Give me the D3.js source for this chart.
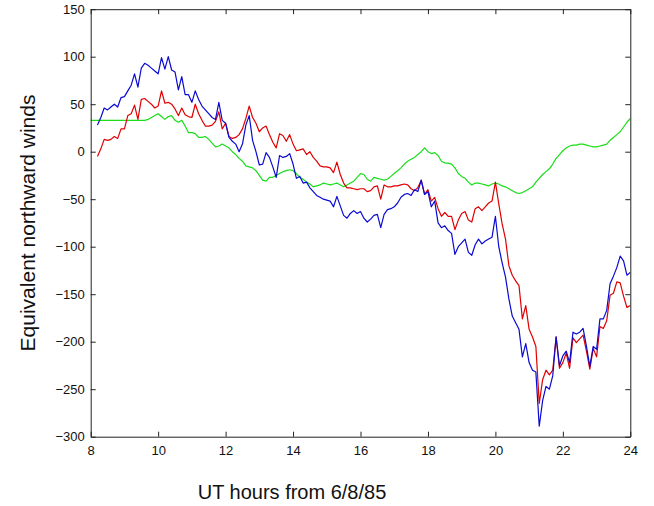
<!DOCTYPE html>
<html>
<head>
<meta charset="utf-8">
<script src="https://cdn.jsdelivr.net/npm/d3@7"></script>
<style>
  body { margin: 0; background: #fff; }
  svg { display: block; font-family: "Liberation Sans", Arial, Helvetica, sans-serif; }
</style>
</head>
<body>
<div id="chart"></div>
<script>
// samples every 0.1 h starting at 8.0 UT
const t0 = 8.0;
const dt = 0.1;

const xTicks = [8, 10, 12, 14, 16, 18, 20, 22, 24];
const yTicks = [-300, -250, -200, -150, -100, -50, 0, 50, 100, 150];

const blue = [
  null, null, 28, 36, 46, 44, 47, 50, 47, 57,
  58, 64, 70, 82, 68, 88, 93, 91, 88, 85,
  82, 99, 87, 100, 86, 84, 65, 79, 60, 60,
  52, 64, 55, 48, 44, 40, 36, 34, 52, 33,
  30, 15, 11, 8, 0, 8, 28, 38, 12, 0,
  -14, -13, -1, -6, -16, -27, -4, -6, -5, -2,
  -13, -28, -26, -33, -32, -38, -42, -46, -48, -50,
  -51, -52, -58, -47, -57, -67, -70, -65, -62, -65,
  -63, -70, -74, -71, -67, -66, -80, -66, -61, -60,
  -58, -54, -48, -45, -44, -46, -40, -42, -30, -45,
  -42, -58, -52, -75, -80, -78, -83, -86, -108, -100,
  -96, -92, -106, -109, -98, -92, -97, -94, -92, -90,
  -68, -100, -117, -132, -155, -173, -180, -187, -216, -202,
  -222, -230, -232, -289, -262, -247, -250, -236, -195, -225,
  -215, -210, -222, -190, -192, -190, -186, -205, -226, -205,
  -208, -176, -176, -167, -139, -131, -122, -110, -115, -130,
  -127
];

const red = [
  null, null, -5, 3, 13, 12, 13, 16, 14, 24,
  24, 38, 40, 49, 34, 55, 56, 53, 50, 46,
  48, 64, 51, 52, 50, 45, 38, 46, 39, 37,
  36, 50, 40, 33, 27, 27, 28, 32, 42, 24,
  30, 16, 14, 15, 18, 24, 35, 48, 36, 30,
  21, 25, 27, 18, 10, 4, 19, 17, 11, 18,
  8, 1, 2, 3, -3, 0, -6, -10, -15, -16,
  -16, -17, -22, -11, -24, -33, -38, -38, -39, -40,
  -39, -39, -42, -41, -37, -36, -50, -35, -37, -37,
  -36, -36, -35, -34, -35, -39, -41, -38, -30, -45,
  -40, -52, -48, -60, -68, -64, -68, -68, -82, -72,
  -65, -63, -72, -74, -60, -58, -62, -58, -54, -52,
  -32, -55, -76, -92, -120, -130, -136, -141, -176, -162,
  -187, -195, -205, -265, -240, -230, -235, -230, -195, -228,
  -222, -212, -228, -196, -201, -197, -193, -210, -229, -207,
  -216, -184, -186, -178, -151, -149, -137, -138, -152, -164,
  -162
];

const green = [
  33, 33, 33, 33, 33, 33, 33, 33, 33, 33,
  33, 33, 33, 33, 33, 33, 33, 34, 36, 38,
  40, 37, 34, 37, 38, 33, 31, 33, 27, 20,
  20, 19, 15, 15, 16, 13, 9, 5, 6, 8,
  6, 4, 0, -3, -7, -10, -15, -16, -17, -20,
  -25, -30, -31, -27, -27, -25, -23, -21, -20, -19,
  -20, -23, -27, -29, -32, -34, -37, -36, -35, -33,
  -34, -35, -34, -33, -35, -37, -35, -33, -31, -27,
  -23, -24, -29, -31, -27, -28, -29, -30, -29, -26,
  -23, -20, -17, -13, -10, -8, -6, -3, 0, 4,
  0, -2, -1, -4, -10, -12, -12, -13, -17, -23,
  -26, -28, -32, -35, -33, -33, -34, -35, -36, -34,
  -33, -34, -36, -37, -39, -41, -43, -44, -43, -41,
  -39, -37, -32, -28, -24, -21, -18, -13, -7, -3,
  1, 4, 6, 7, 7, 8, 8, 7, 6, 5,
  5, 6, 7, 8, 12, 15, 18, 21, 26, 31,
  35
];

const series = [
  { name: 'green', values: green, color: '#19dd19' },
  { name: 'red', values: red, color: '#e00000' },
  { name: 'blue', values: blue, color: '#0a0ad2' }
];

const width = 654;
const height = 506;
const margin = { top: 9.2, right: 23.7, bottom: 69.3, left: 90.7 };

const svg = d3.select('#chart')
  .append('svg')
  .attr('width', width)
  .attr('height', height)
  .attr('viewBox', `0 0 ${width} ${height}`);

const x = d3.scaleLinear()
  .domain([8, 24])
  .range([margin.left, width - margin.right]);

const y = d3.scaleLinear()
  .domain([-300, 150])
  .range([height - margin.bottom, margin.top]);

const line = d3.line()
  .defined(d => d != null)
  .x((d, i) => x(t0 + i * dt))
  .y(d => y(d));

const plot = svg.append('g');

series.forEach(s => {
  plot.append('path')
    .datum(s.values)
    .attr('fill', 'none')
    .attr('stroke', s.color)
    .attr('stroke-width', 1.2)
    .attr('stroke-linejoin', 'round')
    .attr('d', line);
});

// axes with inward ticks, matlab style box
const tickLen = 5;

const gx = svg.append('g')
  .attr('transform', `translate(0,${y(-300)})`)
  .call(d3.axisBottom(x).tickValues(xTicks).tickFormat(d3.format('d'))
    .tickSizeInner(-tickLen).tickSizeOuter(0).tickPadding(9));

const gxTop = svg.append('g')
  .attr('transform', `translate(0,${y(150)})`)
  .call(d3.axisTop(x).tickValues(xTicks).tickFormat('')
    .tickSizeInner(-tickLen).tickSizeOuter(0));

const gy = svg.append('g')
  .attr('transform', `translate(${x(8)},0)`)
  .call(d3.axisLeft(y).tickValues(yTicks).tickFormat(d3.format('d'))
    .tickSizeInner(-tickLen).tickSizeOuter(0).tickPadding(6));

const gyRight = svg.append('g')
  .attr('transform', `translate(${x(24)},0)`)
  .call(d3.axisRight(y).tickValues(yTicks).tickFormat('')
    .tickSizeInner(-tickLen).tickSizeOuter(0));

[gx, gxTop, gy, gyRight].forEach(g => {
  g.select('.domain').attr('stroke', '#222');
  g.selectAll('.tick line').attr('stroke', '#222');
  g.selectAll('.tick text')
    .attr('fill', '#111')
    .style('font-size', '13px')
    .style('font-family', '"Liberation Sans", Arial, Helvetica, sans-serif');
});

svg.append('text')
  .attr('x', 292)
  .attr('y', 499)
  .attr('text-anchor', 'middle')
  .attr('fill', '#111')
  .style('font-size', '20px')
  .text('UT hours from 6/8/85');

svg.append('text')
  .attr('transform', `translate(35,223) rotate(-90)`)
  .attr('text-anchor', 'middle')
  .attr('fill', '#111')
  .style('font-size', '21px')
  .text('Equivalent northward winds');
</script>
</body>
</html>
